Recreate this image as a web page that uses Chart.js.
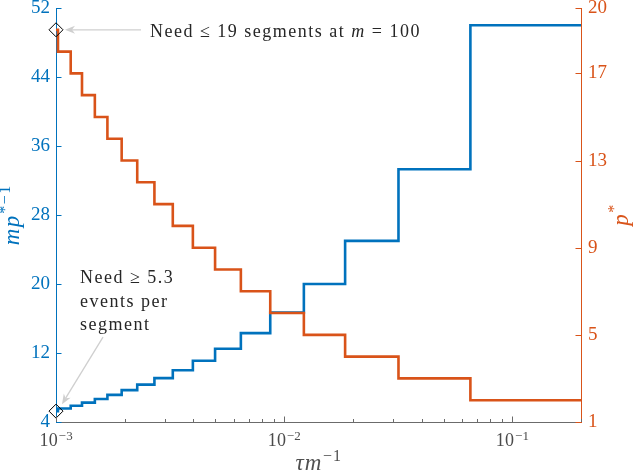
<!DOCTYPE html>
<html>
<head>
<meta charset="utf-8">
<script src="https://cdn.jsdelivr.net/npm/chart.js@4"></script>
<style>
    html, body { margin: 0; padding: 0; background: #fff; }
    #wrap { width: 633px; height: 472px; position: relative; }
</style>
</head>
<body>
<div id="wrap"><canvas id="chart"></canvas></div>
<script>
// tau*m^-1 where each step begins, last one runs to xEnd
const stepStarts = [0.001, 0.00102, 0.00116, 0.0013, 0.00148, 0.00168, 0.00194, 0.00227, 0.0027, 0.00325, 0.00398, 0.00498, 0.00646, 0.00869, 0.0122, 0.0185, 0.0317, 0.0655]
const xEnd = 0.2
// p* (right axis) and m p*^-1 (left axis) on each step
const pStar = [19, 18, 17, 16, 15, 14, 13, 12, 11, 10, 9, 8, 7, 6, 5, 4, 3, 2]
const mpInv = [5.26, 5.56, 5.88, 6.25, 6.67, 7.14, 7.69, 8.33, 9.09, 10, 11.1, 12.5, 14.3, 16.7, 20, 25, 33.3, 50]
// tick labels
const leftTicks = [4, 12, 20, 28, 36, 44, 52]
const rightTicks = [1, 5, 9, 13, 17, 20]
const xDecades = [0.001, 0.01, 0.1]
const xDecadeLabels = ["−3", "−2", "−1"]

const blue = "#0072BD"
const orange = "#D95319"
const axisGray = "#6b6b6b"
const textDark = "#262626"
const arrowGray = "#cfcfcf"
const serif = "'Liberation Serif', 'Times New Roman', serif"

function stepPoints(values) {
    const pts = stepStarts.map((x, i) => ({ x: x, y: values[i] }))
    pts.push({ x: xEnd, y: values[values.length - 1] })
    return pts
}

// text with a raised smaller part, e.g. 10^-3
function drawSup(ctx, base, sup, x, y, align, baseFont, supFont, rise, spacing) {
    ctx.letterSpacing = (spacing || 0) + "px"
    ctx.font = baseFont
    const wb = ctx.measureText(base).width
    ctx.font = supFont
    const ws = ctx.measureText(sup).width
    let x0 = x
    if (align === "center") x0 = x - (wb + ws) / 2
    ctx.textAlign = "left"
    ctx.textBaseline = "alphabetic"
    ctx.font = baseFont
    ctx.fillText(base, x0, y)
    ctx.font = supFont
    ctx.fillText(sup, x0 + wb + 0.5, y - rise)
    ctx.letterSpacing = "0px"
}

function drawArrow(ctx, x1, y1, x2, y2) {
    const ang = Math.atan2(y2 - y1, x2 - x1)
    const len = 10, half = 4, notch = 7
    ctx.save()
    ctx.strokeStyle = arrowGray
    ctx.fillStyle = arrowGray
    ctx.lineWidth = 1.3
    ctx.beginPath()
    ctx.moveTo(x1, y1)
    ctx.lineTo(x2 - Math.cos(ang) * notch, y2 - Math.sin(ang) * notch)
    ctx.stroke()
    ctx.translate(x2, y2)
    ctx.rotate(ang)
    ctx.beginPath()
    ctx.moveTo(0, 0)
    ctx.lineTo(-len, -half)
    ctx.lineTo(-notch, 0)
    ctx.lineTo(-len, half)
    ctx.closePath()
    ctx.fill()
    ctx.restore()
}

// inward ticks, x tick labels, axis titles and the two notes
const axisDecor = {
    id: "axisDecor",
    afterDraw(chart) {
        const ctx = chart.ctx
        const area = chart.chartArea
        const xs = chart.scales.x, yl = chart.scales.y, yr = chart.scales.y1
        ctx.save()

        ctx.lineWidth = 1
        ctx.strokeStyle = blue
        yl.ticks.forEach((t) => {
            const y = Math.round(yl.getPixelForValue(t.value)) + 0.5
            ctx.beginPath(); ctx.moveTo(area.left, y); ctx.lineTo(area.left + 5.5, y); ctx.stroke()
        })
        ctx.strokeStyle = orange
        yr.ticks.forEach((t) => {
            const y = Math.round(yr.getPixelForValue(t.value)) + 0.5
            ctx.beginPath(); ctx.moveTo(area.right - 5.5, y); ctx.lineTo(area.right, y); ctx.stroke()
        })
        ctx.strokeStyle = axisGray
        xs.ticks.forEach((t) => {
            const x = Math.round(xs.getPixelForValue(t.value)) + 0.5
            const len = t.major ? 5.5 : 3
            ctx.beginPath(); ctx.moveTo(x, area.bottom); ctx.lineTo(x, area.bottom - len); ctx.stroke()
        })

        // x tick labels 10^n
        ctx.fillStyle = "#4a4a4a"
        xDecades.forEach((v, i) => {
            const x = xs.getPixelForValue(v)
            drawSup(ctx, "10", xDecadeLabels[i], x, area.bottom + 24, "center", "18px " + serif, "13px " + serif, 6, 0.3)
        })

        // axis titles
        ctx.fillStyle = "#505050"
        drawSup(ctx, "τm", "−1", (area.left + area.right) / 2, 470, "center", "italic 23px " + serif, "16px " + serif, 9, 1)

        ctx.save()
        ctx.translate(19, (area.top + area.bottom) / 2)
        ctx.rotate(-Math.PI / 2)
        ctx.fillStyle = blue
        drawSup(ctx, "mp", "*−1", 0, 0, "center", "italic 23px " + serif, "16px " + serif, 9, 1.5)
        ctx.restore()

        ctx.save()
        ctx.translate(628, (area.top + area.bottom) / 2)
        ctx.rotate(-Math.PI / 2)
        ctx.fillStyle = orange
        drawSup(ctx, "p", "*", 0, 0, "center", "italic 23px " + serif, "16px " + serif, 9, 1)
        ctx.restore()

        // note at the first p* marker
        const ax = xs.getPixelForValue(stepStarts[0])
        const ay = yr.getPixelForValue(pStar[0])
        drawArrow(ctx, ax + 85, ay, ax + 9, ay)
        ctx.fillStyle = textDark
        ctx.textAlign = "left"
        ctx.textBaseline = "alphabetic"
        ctx.letterSpacing = "1.5px"
        ctx.font = "18px " + serif
        let tx = ax + 94
        const ty = ay + 7
        const part1 = "Need ≤ 19 segments at "
        ctx.fillText(part1, tx, ty)
        tx += ctx.measureText(part1).width
        ctx.font = "italic 18px " + serif
        ctx.fillText("m", tx, ty)
        tx += ctx.measureText("m").width
        ctx.font = "18px " + serif
        ctx.fillText(" = 100", tx, ty)

        // note at the first m p*^-1 marker
        const bx = xs.getPixelForValue(stepStarts[0])
        const by = yl.getPixelForValue(mpInv[0])
        drawArrow(ctx, bx + 47, by - 74, bx + 6, by - 7)
        ctx.fillStyle = textDark
        ctx.font = "18px " + serif
        ctx.fillText("Need ≥ 5.3", bx + 24, by - 128)
        ctx.fillText("events per", bx + 24, by - 104)
        ctx.fillText("segment", bx + 24, by - 81)
        ctx.letterSpacing = "0px"

        ctx.restore()
    },
}

const ctx = document.getElementById("chart").getContext("2d")

new Chart(ctx, {
    type: "line",
    data: {
        datasets: [
            {
                label: "p* marker",
                data: [{ x: stepStarts[0], y: pStar[0] }],
                yAxisID: "y1",
                showLine: false,
                pointStyle: "rectRot",
                pointRadius: 7,
                pointBorderColor: "#000",
                pointBorderWidth: 1,
                pointBackgroundColor: "rgba(0,0,0,0)",
                clip: false,
                order: 0,
            },
            {
                label: "m p* marker",
                data: [{ x: stepStarts[0], y: mpInv[0] }],
                yAxisID: "y",
                showLine: false,
                pointStyle: "rectRot",
                pointRadius: 7,
                pointBorderColor: "#000",
                pointBorderWidth: 1,
                pointBackgroundColor: "rgba(0,0,0,0)",
                clip: false,
                order: 0,
            },
            {
                label: "p*",
                data: stepPoints(pStar),
                yAxisID: "y1",
                stepped: "before",
                borderColor: orange,
                borderWidth: 2.6,
                pointRadius: 0,
                fill: false,
                clip: false,
                order: 1,
            },
            {
                label: "m p*^-1",
                data: stepPoints(mpInv),
                yAxisID: "y",
                stepped: "before",
                borderColor: blue,
                borderWidth: 2.6,
                pointRadius: 0,
                fill: false,
                clip: false,
                order: 2,
            },
        ],
    },
    options: {
        responsive: true,
        maintainAspectRatio: false,
        animation: false,
        layout: { autoPadding: false, padding: { top: 8, left: 0, right: 0, bottom: 0 } },
        plugins: {
            legend: { display: false },
            tooltip: { enabled: false },
        },
        scales: {
            x: {
                type: "logarithmic",
                min: stepStarts[0],
                max: xEnd,
                grid: { display: false, drawTicks: false },
                border: { color: axisGray, width: 1 },
                ticks: { display: false },
                afterBuildTicks: (scale) => {
                    const list = []
                    xDecades.forEach((d) => {
                        for (let k = 1; k <= 9; k++) {
                            const v = d * k
                            if (v <= xEnd * 1.0001) list.push({ value: v, major: k === 1 })
                        }
                    })
                    scale.ticks = list
                },
                afterFit: (scale) => {
                    scale.height = 50
                    scale.paddingLeft = 0
                    scale.paddingRight = 0
                },
            },
            y: {
                position: "left",
                min: leftTicks[0],
                max: leftTicks[leftTicks.length - 1],
                grid: { display: false, drawTicks: false },
                border: { color: blue, width: 1 },
                ticks: {
                    color: blue,
                    padding: 6,
                    font: { family: serif, size: 19 },
                },
                afterBuildTicks: (scale) => {
                    scale.ticks = leftTicks.map((v) => ({ value: v }))
                },
                afterFit: (scale) => {
                    scale.width = 56
                    scale.paddingTop = 0
                    scale.paddingBottom = 0
                },
            },
            y1: {
                position: "right",
                min: rightTicks[0],
                max: rightTicks[rightTicks.length - 1],
                grid: { display: false, drawTicks: false },
                border: { color: orange, width: 1 },
                ticks: {
                    color: orange,
                    padding: 7,
                    font: { family: serif, size: 19 },
                },
                afterBuildTicks: (scale) => {
                    scale.ticks = rightTicks.map((v) => ({ value: v }))
                },
                afterFit: (scale) => {
                    scale.width = 52
                    scale.paddingTop = 0
                    scale.paddingBottom = 0
                },
            },
        },
    },
    plugins: [axisDecor],
})
</script>
</body>
</html>
